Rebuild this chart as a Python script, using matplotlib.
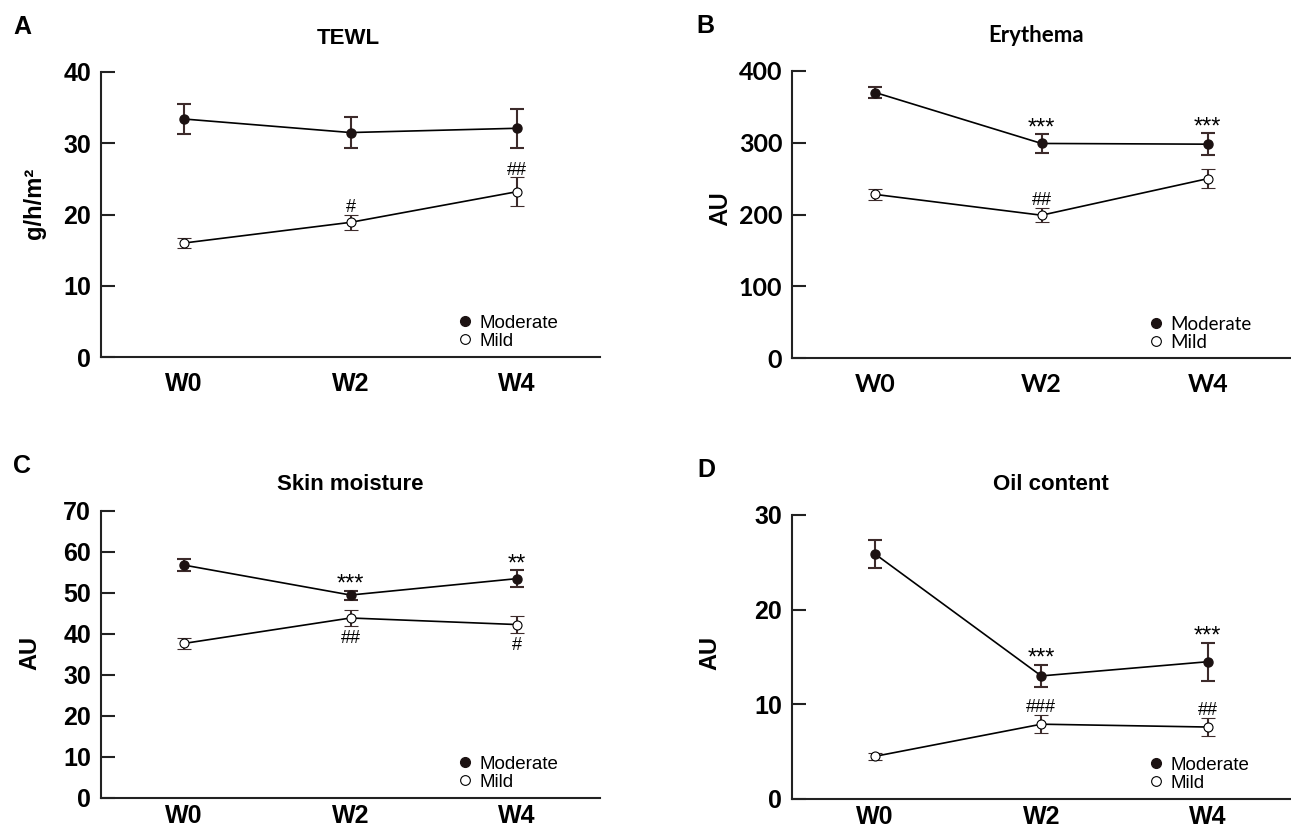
import matplotlib
matplotlib.use("Agg")
import matplotlib.pyplot as plt
from matplotlib.lines import Line2D

plt.rcParams['font.family'] = ['Liberation Sans', 'DejaVu Sans']

# === DATA ===
weeks = ["W0", "W2", "W4"]
groups = ["Moderate", "Mild"]

tewl_moderate = [33.4, 31.5, 32.1]
tewl_moderate_err = [2.1, 2.2, 2.7]
tewl_mild = [16.0, 18.9, 23.2]
tewl_mild_err = [0.65, 1.05, 2.0]

ery_moderate = [370, 299, 298]
ery_moderate_err = [8, 13, 15]
ery_mild = [228, 199, 250]
ery_mild_err = [8, 10, 13]

moist_moderate = [56.8, 49.5, 53.5]
moist_moderate_err = [1.4, 1.1, 2.0]
moist_mild = [37.7, 43.9, 42.3]
moist_mild_err = [1.3, 2.0, 2.0]

oil_moderate = [25.9, 13.0, 14.5]
oil_moderate_err = [1.45, 1.2, 2.0]
oil_mild = [4.5, 7.9, 7.6]
oil_mild_err = [0.35, 0.95, 1.0]

# significance marks: (week index, group, text, above/below)
tewl_marks = [(1, "mild", "#", "above"), (2, "mild", "##", "above")]
ery_marks = [(1, "moderate", "***", "above"), (2, "moderate", "***", "above"),
             (1, "mild", "##", "above")]
moist_marks = [(1, "moderate", "***", "above"), (2, "moderate", "**", "above"),
               (1, "mild", "##", "below"), (2, "mild", "#", "below")]
oil_marks = [(1, "moderate", "***", "above"), (2, "moderate", "***", "above"),
             (1, "mild", "###", "above"), (2, "mild", "##", "above")]

panels = [
    dict(letter="A", title="TEWL", ylabel="g/h/m²", ymax=40, yticks=[0, 10, 20, 30, 40],
         mod=tewl_moderate, mod_err=tewl_moderate_err, mild=tewl_mild, mild_err=tewl_mild_err,
         marks=tewl_marks, rect=[0.0782, 0.5719, 0.3866, 0.3418], font='Liberation Sans',
         title_x=0.495, title_pad=20, ylab_xy=(-0.11, 0.54), letter_x=-0.176, xpad=11),
    dict(letter="B", title="Erythema", ylabel="AU", ymax=400, yticks=[0, 100, 200, 300, 400],
         mod=ery_moderate, mod_err=ery_moderate_err, mild=ery_mild, mild_err=ery_mild_err,
         marks=ery_marks, rect=[0.6135, 0.5707, 0.3865, 0.3442], font='Lato',
         title_x=0.489, title_pad=21, ylab_xy=(-0.121, 0.52), letter_x=-0.192, xpad=11),
    dict(letter="C", title="Skin moisture", ylabel="AU", ymax=70, yticks=list(range(0, 80, 10)),
         mod=moist_moderate, mod_err=moist_moderate_err, mild=moist_mild, mild_err=moist_mild_err,
         marks=moist_marks, rect=[0.0782, 0.0432, 0.3866, 0.3441], font='Liberation Sans',
         title_x=0.5, title_pad=15, ylab_xy=(-0.119, 0.505), letter_x=-0.176, xpad=4),
    dict(letter="D", title="Oil content", ylabel="AU", ymax=30, yticks=[0, 10, 20, 30],
         mod=oil_moderate, mod_err=oil_moderate_err, mild=oil_mild, mild_err=oil_mild_err,
         marks=oil_marks, rect=[0.6131, 0.0420, 0.3869, 0.3405], font='Liberation Sans',
         title_x=0.519, title_pad=18, ylab_xy=(-0.141, 0.514), letter_x=-0.188, xpad=4),
]

ERR_COLOR = "#3d2b2b"
DOT_COLOR = "#1c1212"

fig = plt.figure(figsize=(12.91, 8.34), dpi=100)

for p in panels:
    ax = fig.add_axes(p["rect"])
    fam = [p["font"], 'Liberation Sans', 'DejaVu Sans']
    x = list(range(len(weeks)))

    ax.errorbar(x, p["mod"], yerr=p["mod_err"], color="black", lw=1.2,
                ecolor=ERR_COLOR, elinewidth=1.5, capsize=5, capthick=1.5,
                marker="o", markersize=6.5, markerfacecolor=DOT_COLOR,
                markeredgecolor=DOT_COLOR, zorder=3)
    ax.errorbar(x, p["mild"], yerr=p["mild_err"], color="black", lw=1.2,
                ecolor=ERR_COLOR, elinewidth=1.5, capsize=5, capthick=1.5,
                marker="o", markersize=6.5, markerfacecolor="white",
                markeredgecolor="black", markeredgewidth=0.8, zorder=3)

    for i, grp, txt, pos in p["marks"]:
        vals = p["mod"] if grp == "moderate" else p["mild"]
        errs = p["mod_err"] if grp == "moderate" else p["mild_err"]
        is_star = txt.startswith("*")
        if pos == "above":
            yy = vals[i] + errs[i]
            off = 0 if is_star else 2
            ax.annotate(txt, xy=(i, yy), xytext=(0, off), textcoords="offset points",
                        ha="center", va="baseline", fontsize=17 if is_star else 13,
                        family=['Liberation Sans'])
        else:
            yy = vals[i] - errs[i]
            ax.annotate(txt, xy=(i, yy), xytext=(0, -3), textcoords="offset points",
                        ha="center", va="top", fontsize=13, family=['Liberation Sans'])

    ax.set_xlim(-0.5, 2.5)
    ax.set_ylim(0, p["ymax"])
    ax.set_yticks(p["yticks"])
    ax.set_xticks(x)
    ax.set_xticklabels(weeks)
    for s in ["top", "right"]:
        ax.spines[s].set_visible(False)
    for s in ["left", "bottom"]:
        ax.spines[s].set_linewidth(1.5)
        ax.spines[s].set_color("#222222")
    ax.tick_params(axis="y", direction="in", length=10, width=1.5, color="#222222",
                   pad=7, labelsize=18)
    ax.tick_params(axis="x", length=0, pad=p["xpad"], labelsize=18)
    for lab in ax.get_xticklabels() + ax.get_yticklabels():
        lab.set_fontweight("bold")
        lab.set_family(fam)

    ax.set_ylabel(p["ylabel"], fontsize=17, fontweight="bold", family=fam)
    ax.yaxis.set_label_coords(*p["ylab_xy"])
    ax.set_title(p["title"], fontsize=16, fontweight="bold", family=fam,
                 x=p["title_x"], pad=p["title_pad"])
    ax.text(p["letter_x"], 1.157, p["letter"], transform=ax.transAxes, fontsize=18,
            fontweight="bold", ha="left", va="center")

    handles = [Line2D([0], [0], marker="o", ls="none", markersize=7,
                      markerfacecolor=DOT_COLOR, markeredgecolor=DOT_COLOR),
               Line2D([0], [0], marker="o", ls="none", markersize=7,
                      markerfacecolor="white", markeredgecolor="black", markeredgewidth=0.8)]
    ax.legend(handles, groups, loc="lower left", bbox_to_anchor=(0.71, 0.025),
              frameon=False, handlelength=1.0, handletextpad=0.3,
              labelspacing=0.05, borderpad=0, borderaxespad=0, prop={"family": fam, "size": 13.5})

fig.savefig("out.png", dpi=100)
